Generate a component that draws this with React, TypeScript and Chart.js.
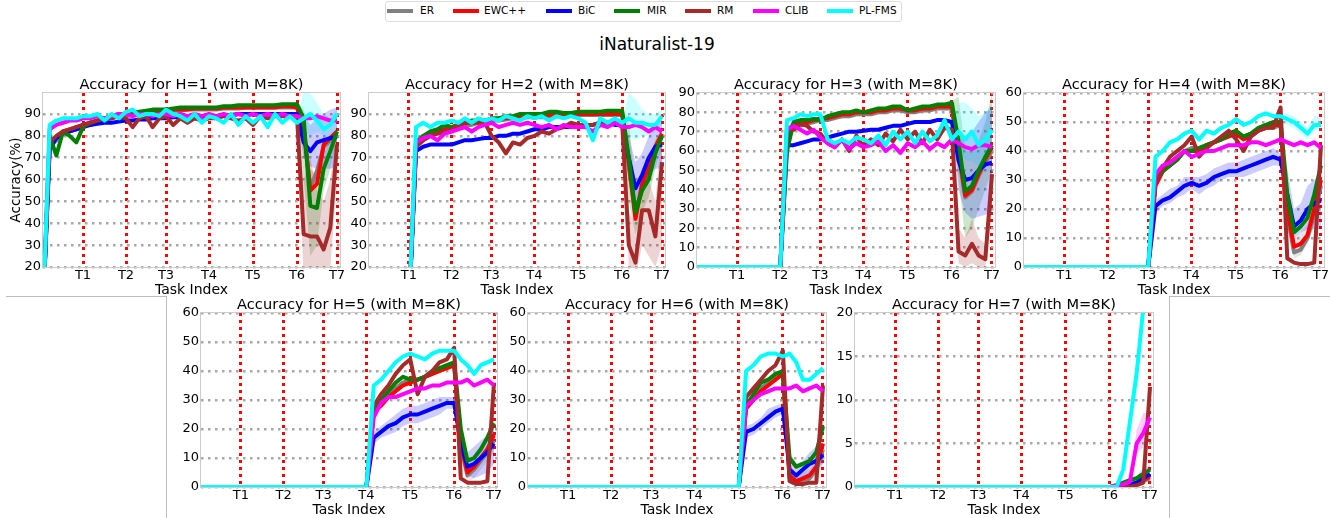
import React, { useEffect, useRef } from 'react';
import { Chart, registerables } from 'chart.js';

Chart.register(...registerables);

// ---------------- data ----------------
const methods = ['ER', 'EWC++', 'BiC', 'MIR', 'RM', 'CLIB', 'PL-FMS'];
const methodColors = ['#808080', '#ff0000', '#0000ff', '#008000', '#a52a2a', '#ff00ff', '#00ffff'];
const taskLabels = ['T1', 'T2', 'T3', 'T4', 'T5', 'T6', 'T7'];
const taskEnds = [40, 83, 123, 166, 210, 254, 294];
const samplesPerTask = 6;
const xMax = 297;
const horizons = [1, 2, 3, 4, 5, 6, 7];
const memoryLabel = '8K';
const figureTitle = 'iNaturalist-19';

const yTicksHigh = [20, 30, 40, 50, 60, 70, 80, 90];
const yTicksH3 = [0, 10, 20, 30, 40, 50, 60, 70, 80, 90];
const yTicks60 = [0, 10, 20, 30, 40, 50, 60];
const yTicks20 = [0, 5, 10, 15, 20];

// H=1 (tasks 1..7, 6 samples per task)
const h1ER = [75, 78, 81, 82, 83, 84, 85, 86, 87, 88, 89, 89, 89.5, 90, 90.5, 90.5, 91, 91, 91.5, 91.5, 92, 92, 92, 92, 92, 92.5, 92.5, 92.5, 93, 93, 93, 93, 93, 93, 93, 93, 82, 56, 64, 75, 78, 81];
const h1EWC = [76, 79, 82, 83, 84, 85, 86, 87, 88, 89, 89.5, 90, 90, 90.5, 91, 91, 91.5, 91.5, 92, 92, 92, 92.5, 92.5, 92.5, 92.5, 93, 93, 93, 93, 93, 93, 93, 93, 93.5, 93.5, 93, 84, 55, 58, 76, 79, 82];
const h1BiC = [74, 79, 81, 82, 83, 84, 85, 85.5, 86, 86, 86.5, 87, 87, 87.5, 87.5, 88, 88, 88, 88.5, 88.5, 89, 89, 89, 89, 89, 89.5, 89.5, 90, 90, 90, 90, 90, 90, 90, 90, 90, 77, 73, 77, 78, 79, 79.5];
const h1MIR = [80, 71, 82, 80, 77, 84, 86, 87, 88, 89, 90, 90, 90.5, 91, 91.5, 92, 92, 92, 92.5, 93, 93, 93, 93, 93, 93, 93.5, 93.5, 94, 94, 94, 94, 94, 94, 94.5, 94.5, 94.5, 88, 48, 47, 65, 73, 82];
const h1RM = [77, 80, 82, 83, 84, 85, 86, 87, 88, 88, 89, 88, 84, 88, 89, 84, 88, 89, 85, 88, 86, 88, 87, 88, 88, 89, 88, 87, 88, 85, 89, 88, 89, 89, 89, 89, 35, 34, 34, 28, 38, 76];
const h1CLIB = [83, 85, 86, 87, 87, 88, 88, 89, 88, 89, 90, 90, 89, 90, 90, 89, 90, 90, 89, 90, 89, 90, 89, 90, 89, 90, 89, 90, 89, 90, 89, 90, 89, 90, 89, 89, 88, 88, 89, 88, 87, 87];
const h1PLFMS = [85, 87, 88, 88, 88, 89, 89, 90, 87, 90, 88, 91, 92, 89, 90, 90, 89, 92, 90, 89, 87, 90, 86, 89, 88, 86, 90, 85, 89, 86, 89, 84, 90, 86, 89, 86, 88, 90, 87, 83, 85, 90];

// H=2 (tasks 2..7)
const h2ER = [75, 78, 80, 81, 82, 83, 84, 85, 85, 86, 86, 87, 87, 87.5, 88, 88, 88.5, 88.5, 88.5, 89, 89, 89, 89.5, 89.5, 89.5, 89.5, 89.5, 89.5, 89.5, 89.5, 66, 44, 56, 64, 73, 80];
const h2EWC = [76, 79, 81, 82, 83, 84, 85, 86, 86, 87, 87, 87.5, 88, 88, 88.5, 89, 89, 89, 89, 89.5, 89.5, 89.5, 90, 90, 90, 90, 90, 90, 90, 90, 68, 42, 58, 66, 75, 81];
const h2BiC = [73, 75, 76, 76, 76, 76, 77, 78, 78, 78.5, 79, 79, 80, 80, 81, 81, 82, 83, 83, 84, 84, 84, 84, 85, 85, 85, 86, 86, 85, 85, 70, 56, 62, 70, 75, 76];
const h2MIR = [77, 80, 82, 83, 85, 84, 85, 86, 87, 87, 87, 88, 88, 89, 89, 90, 90, 90, 90, 91, 91, 90.5, 90.5, 91, 91, 91, 91, 91.5, 91.5, 91.5, 70, 45, 55, 60, 72, 80];
const h2RM = [75, 78, 80, 81, 82, 83, 85, 86, 86, 86, 86, 80, 77, 72, 77, 76, 79, 80, 82, 81, 83, 84, 86, 85, 85, 85, 86, 86, 86, 86, 30, 22, 46, 46, 34, 68];
const h2CLIB = [77, 79, 80, 78, 81, 82, 83, 84, 82, 84, 85, 86, 84, 85, 86, 85, 86, 85, 84, 85, 83, 85, 84, 84, 84, 82, 85, 84, 86, 84, 84, 85, 84, 82, 84, 82];
const h2PLFMS = [84, 86, 84, 86, 86, 87, 86, 88, 86, 88, 87, 88, 87, 89, 88, 87, 89, 88, 89, 87, 89, 88, 89, 88, 86, 78, 88, 86, 88, 86, 88, 86, 86, 85, 85, 89];

// H=3 (tasks 3..7)
const h3ER = [69, 73, 73, 74, 75, 76, 76, 77, 78, 78, 79, 79, 79, 80, 80, 81, 81, 80, 80, 81, 81, 82, 82, 82, 58, 36, 39, 47, 54, 60];
const h3EWC = [70, 74, 74, 75, 76, 77, 77, 78, 79, 79, 80, 80, 80, 81, 81, 82, 82, 81, 81, 82, 82, 83, 83, 83, 60, 37, 40, 48, 56, 62];
const h3BiC = [63, 63, 64, 65, 66, 66, 67, 68, 69, 70, 70, 70.5, 71, 71, 72, 73, 73, 74, 75, 75, 75, 76, 76, 75, 55, 45, 46, 50, 53, 54];
const h3MIR = [60, 75, 76, 76, 76.5, 76, 78, 79, 80, 80, 81, 80, 81, 82, 82, 83, 83, 81, 82, 83, 83, 84, 84, 85, 65, 39, 42, 50, 57, 63];
const h3RM = [72, 71, 74, 73, 70, 69, 64, 62, 66, 60, 68, 62, 66, 63, 69, 65, 71, 66, 70, 64, 71, 66, 72, 71, 8, 6, 12, 6, 4, 48];
const h3CLIB = [71, 73, 71, 69, 71, 67, 64, 62, 66, 61, 64, 62, 63, 65, 60, 63, 59, 64, 62, 65, 61, 64, 62, 66, 64, 62, 61, 63, 63, 62];
const h3PLFMS = [76, 77, 79, 78, 79, 79, 66, 64, 66, 64, 67, 66, 64, 68, 63, 70, 66, 70, 64, 70, 65, 68, 76, 66, 70, 66, 70, 63, 66, 71];

// H=4 (tasks 4..7)
const h4ER = [29, 33, 36, 38, 40, 41, 41, 42, 43, 44, 45, 46, 45, 46, 47, 48, 48, 49, 18, 5, 6, 10, 18, 28];
const h4EWC = [28, 33, 35, 37, 40, 40, 40, 42, 43, 44, 45, 46, 44, 45, 47, 48, 49, 49, 20, 7, 8, 11, 20, 30];
const h4BiC = [21, 23, 24, 26, 28, 29, 28, 29, 31, 32, 33, 33, 34, 35, 36, 37, 38, 37, 25, 14, 16, 20, 22, 23];
const h4MIR = [30, 33, 35, 37, 40, 40, 41, 42, 43, 44, 46, 47, 45, 46, 48, 49, 50, 50, 25, 12, 14, 17, 25, 35];
const h4RM = [30, 34, 38, 40, 42, 45, 38, 41, 43, 45, 47, 44, 40, 45, 47, 48, 48, 55, 3, 1.5, 1, 1, 1.5, 42];
const h4CLIB = [32, 35, 36, 38, 40, 38, 39, 40, 40, 41, 42, 42, 42, 43, 43, 42, 43, 44, 43, 42, 43, 42, 43, 41];
const h4PLFMS = [38, 40, 43, 44, 46, 47, 44, 47, 46, 48, 49, 51, 49, 50, 52, 53, 52, 52, 51, 50, 48, 46, 49, 49];

// H=5 (tasks 5..7)
const h5ER = [26, 29, 32, 34, 36, 37, 37, 38, 39, 40, 41, 42, 14, 4, 6, 9, 12, 16];
const h5EWC = [26, 28, 31, 33, 35, 36, 37, 38, 39, 40, 41, 42, 15, 5, 7, 10, 13, 18];
const h5BiC = [17, 19, 21, 22, 24, 25, 25, 26, 27, 28, 29, 29, 15, 7, 8, 10, 12, 15];
const h5MIR = [27, 30, 33, 36, 38, 37, 37, 38, 40, 41, 42, 43, 20, 9, 10, 13, 17, 22];
const h5RM = [28, 32, 35, 39, 42, 44, 32, 38, 40, 43, 44, 48, 3, 1.5, 1.5, 1.5, 2, 36];
const h5CLIB = [24, 29, 31, 31, 32, 33, 34, 34, 35, 35, 36, 36, 36, 37, 35, 36, 37, 35];
const h5PLFMS = [35, 37, 40, 43, 45, 46, 45, 44, 46, 47, 47, 47, 44, 42, 39, 42, 43, 44];

// H=6 (tasks 6..7)
const h6ER = [28, 31, 34, 36, 38, 40, 3, 2, 2, 3, 6, 13];
const h6EWC = [27, 30, 33, 35, 37, 39, 4, 2, 3, 4, 7, 15];
const h6BiC = [19, 20, 22, 24, 26, 27, 6, 4, 6, 8, 9, 11];
const h6MIR = [28, 32, 36, 37, 39, 40, 10, 7, 8, 9, 12, 21];
const h6RM = [31, 34, 37, 40, 42, 47, 2, 1, 1, 1.5, 1.5, 35];
const h6CLIB = [28, 30, 32, 33, 34, 34, 34, 35, 33, 34, 35, 33];
const h6PLFMS = [40, 42, 45, 46, 46, 45, 46, 43, 37, 37, 39, 41];

// H=7 (task 7)
const h7ER = [0, 0, 0.2, 0.4, 0.7, 1];
const h7EWC = [0, 0, 0.2, 0.5, 0.8, 1.2];
const h7BiC = [0, 0, 0.3, 0.5, 1, 1.5];
const h7MIR = [0.2, 0.5, 0.8, 1, 1.5, 2];
const h7RM = [0, 0, 0, 0.2, 0.5, 11.5];
const h7CLIB = [0.2, 0.3, 0.6, 5, 6.2, 8];
const h7PLFMS = [0, 2, 7.5, 13, 20.5, 27];

// spread bands (lower / upper), starting at a given evaluation index
const b1BiCLo = [89, 70, 66, 65, 65, 65, 66];
const b1BiCHi = [91, 90, 85, 88, 90, 92, 93];
const b1PLLo = [85, 82, 80, 82, 80, 78, 86];
const b1PLHi = [88, 99.6, 99.6, 95, 90, 88, 93];
const b1RMLo = [88, 15, 10, 15, 15, 20, 60];
const b1RMHi = [90, 60, 70, 55, 50, 60, 85];
const b1MIRLo = [93, 60, 25, 30, 55, 65, 78];
const b1MIRHi = [95, 92, 65, 62, 72, 78, 85];

const b2BiCLo = [84, 60, 48, 55, 62, 65, 65];
const b2BiCHi = [86, 80, 68, 72, 80, 85, 88];
const b2PLLo = [85, 80, 78, 80, 80, 82, 85];
const b2PLHi = [88, 99.6, 97, 92, 90, 90, 92];
const b2RMLo = [85, 20, 15, 30, 25, 20, 30];
const b2RMHi = [87, 45, 40, 60, 60, 50, 85];
const b2MIRLo = [90, 50, 35, 45, 52, 65, 75];
const b2MIRHi = [92, 88, 55, 65, 70, 78, 84];

const b3BiCLo = [74, 40, 28, 25, 26, 27, 28];
const b3BiCHi = [76, 72, 65, 70, 75, 80, 82];
const b3PLLo = [64, 60, 55, 55, 52, 55, 60];
const b3PLHi = [68, 85, 85, 82, 78, 80, 85];
const b3RMLo = [70, 2, 0, 2, 0, 0, 30];
const b3RMHi = [72, 20, 15, 25, 15, 12, 60];
const b3MIRLo = [84, 45, 15, 20, 30, 40, 50];
const b3MIRHi = [86, 88, 60, 60, 65, 75, 90];

const b4BiCLo = [0, 19, 21, 22, 24, 25, 27, 25, 27, 28, 30, 31, 31, 31, 32, 33, 34, 35, 35, 15, 10, 12, 13, 13, 13];
const b4BiCHi = [0, 23, 25, 27, 28, 31, 31, 31, 32, 34, 35, 36, 36, 37, 38, 39, 40, 41, 39, 34, 20, 22, 28, 30, 32];
const b4ERLo = [48, 15, 3, 4, 8, 14, 24];
const b4ERHi = [50, 22, 10, 12, 15, 22, 32];
const b4PLLo = [51, 49, 48, 46, 44, 47, 47];
const b4PLHi = [53, 53, 52, 50, 48, 52, 52];

const b5BiCLo = [0, 15, 17, 18, 19, 21, 22, 22, 23, 24, 25, 27, 27, 10, 4, 3, 4, 5, 8];
const b5BiCHi = [0, 19, 21, 23, 25, 27, 28, 28, 29, 30, 31, 31, 31, 20, 12, 14, 16, 18, 20];
const b5ERLo = [42, 8, 2, 3, 6, 9, 12];
const b5ERHi = [44, 18, 7, 9, 12, 15, 20];

const b6BiCLo = [0, 17, 18, 20, 22, 24, 25, 3, 1, 3, 4, 6, 8];
const b6BiCHi = [0, 21, 22, 24, 27, 28, 29, 12, 8, 9, 12, 14, 14];
const b6ERLo = [39, 2, 0.5, 0.5, 1, 3, 8];
const b6ERHi = [41, 8, 4, 5, 6, 9, 18];

const b7CLIBLo = [0, 0, 0.2, 0.5, 4, 4.5, 7.5];
const b7CLIBHi = [0, 0.3, 0.5, 1, 6.5, 8.5, 8.5];
const b7BiCLo = [0, 0, 0, 0.1, 0.2, 0.5, 0.8];
const b7BiCHi = [0, 0, 0.2, 0.6, 1.2, 2.2, 2.5];

// ---------------- layout ----------------
const Y_AXIS_W = 43;
const X_AXIS_H = 32;
const PAD_T = 24;
const PAD_R = 12;
const FONT = 'DejaVu Sans';
const BAND_ALPHA = 0.2;

type Band = { m: number; from: number; lo: number[]; hi: number[] };

const panels: { series: number[][]; bands: Band[]; yMin: number; yMax: number; yTicks: number[]; left: number; top: number; w: number; h: number; yTitle?: boolean }[] = [
  {
    series: [h1ER, h1EWC, h1BiC, h1MIR, h1RM, h1CLIB, h1PLFMS],
    bands: [
      { m: 2, from: 36, lo: b1BiCLo, hi: b1BiCHi },
      { m: 6, from: 36, lo: b1PLLo, hi: b1PLHi },
      { m: 4, from: 36, lo: b1RMLo, hi: b1RMHi },
      { m: 3, from: 36, lo: b1MIRLo, hi: b1MIRHi },
    ],
    yMin: 20, yMax: 99.6, yTicks: yTicksHigh, left: 43, top: 93, w: 297, h: 174, yTitle: true,
  },
  {
    series: [h2ER, h2EWC, h2BiC, h2MIR, h2RM, h2CLIB, h2PLFMS],
    bands: [
      { m: 2, from: 36, lo: b2BiCLo, hi: b2BiCHi },
      { m: 6, from: 36, lo: b2PLLo, hi: b2PLHi },
      { m: 4, from: 36, lo: b2RMLo, hi: b2RMHi },
      { m: 3, from: 36, lo: b2MIRLo, hi: b2MIRHi },
    ],
    yMin: 20, yMax: 99.6, yTicks: yTicksHigh, left: 369, top: 93, w: 296, h: 174,
  },
  {
    series: [h3ER, h3EWC, h3BiC, h3MIR, h3RM, h3CLIB, h3PLFMS],
    bands: [
      { m: 2, from: 36, lo: b3BiCLo, hi: b3BiCHi },
      { m: 6, from: 36, lo: b3PLLo, hi: b3PLHi },
      { m: 4, from: 36, lo: b3RMLo, hi: b3RMHi },
      { m: 3, from: 36, lo: b3MIRLo, hi: b3MIRHi },
    ],
    yMin: 0, yMax: 90, yTicks: yTicksH3, left: 697, top: 93, w: 298, h: 174,
  },
  {
    series: [h4ER, h4EWC, h4BiC, h4MIR, h4RM, h4CLIB, h4PLFMS],
    bands: [
      { m: 2, from: 18, lo: b4BiCLo, hi: b4BiCHi },
      { m: 0, from: 36, lo: b4ERLo, hi: b4ERHi },
      { m: 6, from: 36, lo: b4PLLo, hi: b4PLHi },
    ],
    yMin: 0, yMax: 60, yTicks: yTicks60, left: 1024, top: 93, w: 300, h: 174,
  },
  {
    series: [h5ER, h5EWC, h5BiC, h5MIR, h5RM, h5CLIB, h5PLFMS],
    bands: [
      { m: 2, from: 24, lo: b5BiCLo, hi: b5BiCHi },
      { m: 0, from: 36, lo: b5ERLo, hi: b5ERHi },
    ],
    yMin: 0, yMax: 60, yTicks: yTicks60, left: 201, top: 313, w: 296, h: 174,
  },
  {
    series: [h6ER, h6EWC, h6BiC, h6MIR, h6RM, h6CLIB, h6PLFMS],
    bands: [
      { m: 2, from: 30, lo: b6BiCLo, hi: b6BiCHi },
      { m: 0, from: 36, lo: b6ERLo, hi: b6ERHi },
    ],
    yMin: 0, yMax: 60, yTicks: yTicks60, left: 528, top: 313, w: 298, h: 174,
  },
  {
    series: [h7ER, h7EWC, h7BiC, h7MIR, h7RM, h7CLIB, h7PLFMS],
    bands: [
      { m: 5, from: 36, lo: b7CLIBLo, hi: b7CLIBHi },
      { m: 2, from: 36, lo: b7BiCLo, hi: b7BiCHi },
    ],
    yMin: 0, yMax: 20, yTicks: yTicks20, left: 855, top: 313, w: 298, h: 174,
  },
];

// evaluation positions: evenly spaced samples inside each task
const gridX: number[] = [0];
taskEnds.forEach((end, j) => {
  const start = j === 0 ? 0 : taskEnds[j - 1];
  for (let m = 1; m <= samplesPerTask; m++) gridX.push(start + (m * (end - start)) / samplesPerTask);
});

function buildPoints(vals: number[], horizon: number) {
  const first = samplesPerTask * (horizon - 1) + 1;
  return gridX.map((x, i) => ({ x, y: i < first ? 0 : vals[i - first] }));
}

function bandPoints(vals: number[], from: number) {
  return vals.map((y, i) => ({ x: gridX[from + i], y }));
}

function rgba(hex: string, a: number) {
  const n = parseInt(hex.slice(1), 16);
  return `rgba(${(n >> 16) & 255}, ${(n >> 8) & 255}, ${n & 255}, ${a})`;
}

function Panel({ idx }: { idx: number }) {
  const ref = useRef<HTMLCanvasElement>(null);
  const p = panels[idx];
  const cw = p.w + Y_AXIS_W + PAD_R;
  const ch = p.h + PAD_T + X_AXIS_H;
  useEffect(() => {
    const horizon = horizons[idx];
    const title = `Accuracy for H=${horizon} (with M=${memoryLabel})`;
    const datasets: any[] = [];
    p.bands.forEach((b) => {
      datasets.push({
        label: methods[b.m] + ' lo',
        data: bandPoints(b.lo, b.from),
        borderWidth: 0,
        pointRadius: 0,
        tension: 0,
        fill: false,
        borderColor: 'rgba(0,0,0,0)',
        order: 100,
      });
      datasets.push({
        label: methods[b.m] + ' hi',
        data: bandPoints(b.hi, b.from),
        borderWidth: 0,
        pointRadius: 0,
        tension: 0,
        fill: '-1',
        borderColor: 'rgba(0,0,0,0)',
        backgroundColor: rgba(methodColors[b.m], BAND_ALPHA),
        order: 100,
      });
    });
    p.series.forEach((vals, i) => {
      datasets.push({
        label: methods[i],
        data: buildPoints(vals, horizon),
        borderColor: methodColors[i],
        backgroundColor: methodColors[i],
        borderWidth: 4,
        pointRadius: 0,
        tension: 0,
        fill: false,
        borderJoinStyle: 'round',
        order: 20 - i,
      });
    });
    const framePlugin = {
      id: 'frame' + idx,
      afterDraw(chart: any) {
        const { ctx, chartArea } = chart;
        ctx.save();
        ctx.strokeStyle = '#cccccc';
        ctx.lineWidth = 1;
        ctx.strokeRect(chartArea.left - 0.5, chartArea.top - 0.5, chartArea.right - chartArea.left + 1, chartArea.bottom - chartArea.top + 1);
        ctx.fillStyle = '#000';
        ctx.font = `14.6px "${FONT}"`;
        ctx.textAlign = 'center';
        ctx.textBaseline = 'alphabetic';
        ctx.fillText(title, (chartArea.left + chartArea.right) / 2, chartArea.top - 4);
        ctx.restore();
      },
    };
    const chart = new Chart(ref.current as HTMLCanvasElement, {
      type: 'line',
      data: { datasets } as any,
      options: {
        animation: false,
        responsive: false,
        maintainAspectRatio: false,
        layout: { padding: { top: PAD_T, right: PAD_R, left: 0, bottom: 0 } },
        plugins: { legend: { display: false }, tooltip: { enabled: false }, title: { display: false } },
        scales: {
          x: {
            type: 'linear',
            min: 0,
            max: xMax,
            afterBuildTicks: (s: any) => {
              s.ticks = taskEnds.map((v) => ({ value: v }));
            },
            afterFit: (s: any) => {
              s.height = X_AXIS_H;
            },
            ticks: {
              autoSkip: false,
              maxRotation: 0,
              padding: 1,
              color: '#000',
              font: { family: FONT, size: 13 },
              callback: (_v: any, i: number) => taskLabels[i],
            },
            grid: { color: '#ff0000', lineWidth: 3, drawTicks: false },
            border: { display: false, dash: [3, 4] },
            title: {
              display: true,
              text: 'Task Index',
              color: '#000',
              font: { family: FONT, size: 14 },
              padding: { top: 0, bottom: 0 },
            },
          },
          y: {
            type: 'linear',
            min: p.yMin,
            max: p.yMax,
            afterBuildTicks: (s: any) => {
              s.ticks = p.yTicks.map((v) => ({ value: v }));
            },
            afterFit: (s: any) => {
              s.width = Y_AXIS_W;
            },
            ticks: { padding: 2, color: '#000', font: { family: FONT, size: 13 } },
            grid: { color: '#a8a8a8', lineWidth: 2.5, drawTicks: false },
            border: { display: false, dash: [2.5, 4.5] },
            title: {
              display: !!p.yTitle,
              text: 'Accuracy(%)',
              color: '#000',
              font: { family: FONT, size: 13.5 },
              padding: { top: 8, bottom: 0 },
            },
          },
        },
      } as any,
      plugins: [framePlugin],
    });
    return () => chart.destroy();
  }, []);
  return (
    <canvas
      ref={ref}
      width={cw}
      height={ch}
      style={{ position: 'absolute', left: p.left - Y_AXIS_W, top: p.top - PAD_T, width: cw, height: ch }}
    />
  );
}

const legendSwatchX = [387, 453, 546, 614, 685, 753, 827];
const legendTextX = [420, 484, 578, 647, 717, 785, 859];

export default function App() {
  useEffect(() => {
    document.body.style.margin = '0';
  }, []);
  const lineStyle = (l: number, t: number, w: number, h: number): React.CSSProperties => ({
    position: 'absolute', left: l, top: t, width: w, height: h, background: '#bdbdbd',
  });
  return (
    <div style={{ position: 'fixed', left: 0, top: 0, width: 1330, height: 518, background: '#fff', overflow: 'hidden', fontFamily: FONT }}>
      <div style={{ position: 'absolute', left: 385, top: 1, width: 515, height: 19, border: '1px solid #dddddd', borderRadius: 3 }} />
      {methods.map((m, i) => (
        <React.Fragment key={m}>
          <div style={{ position: 'absolute', left: legendSwatchX[i], top: 9, width: 26, height: 4, background: methodColors[i] }} />
          <div style={{ position: 'absolute', left: legendTextX[i], top: 4, fontSize: 10.5, lineHeight: '12px', color: '#000', whiteSpace: 'nowrap' }}>{m}</div>
        </React.Fragment>
      ))}
      <div style={{ position: 'absolute', left: 557, top: 34, width: 200, textAlign: 'center', fontSize: 17, lineHeight: '20px', color: '#000' }}>{figureTitle}</div>
      <div style={lineStyle(6, 296, 160, 1)} />
      <div style={lineStyle(166, 296, 1, 222)} />
      <div style={lineStyle(1169, 296, 161, 1)} />
      <div style={lineStyle(1169, 296, 1, 222)} />
      {panels.map((_, i) => (
        <Panel key={i} idx={i} />
      ))}
    </div>
  );
}
